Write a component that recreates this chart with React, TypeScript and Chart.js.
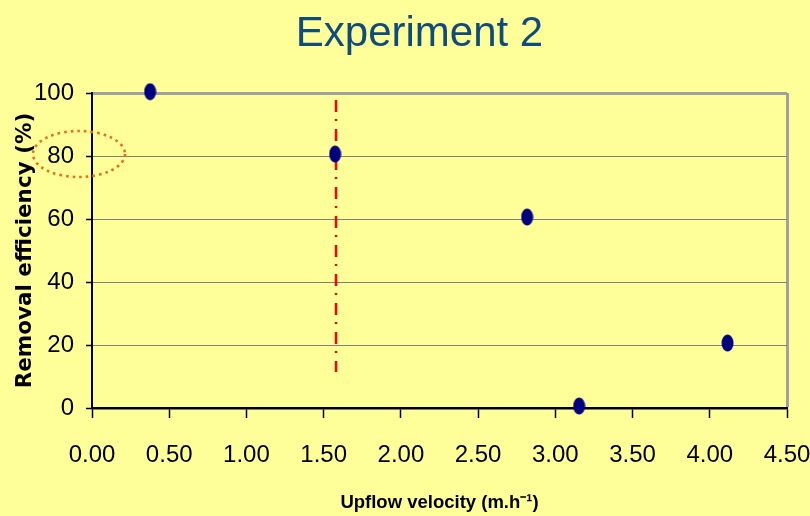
import React, { useEffect, useRef } from "react";
import { Chart, registerables } from "chart.js";

Chart.register(...registerables);

const chartTitle = "Experiment 2";
const xAxisTitle = "Upflow velocity (m.h\u207B\u00B9)";
const yAxisTitle = "Removal efficiency (%)";

const velocity = [0.376, 1.574, 2.817, 3.154, 4.115];
const efficiency = [100.4, 80.6, 60.6, 0.6, 20.6];

const thresholdX = [1.58, 1.58];
const thresholdY = [97.8, 11.4];

const xTickLabels = ["0.00", "0.50", "1.00", "1.50", "2.00", "2.50", "3.00", "3.50", "4.00", "4.50"];
const yTickLabels = ["0", "20", "40", "60", "80", "100"];

const highlightValue = 80;

const tickFont = { family: "'Liberation Sans Narrow', 'Arial Narrow', 'Liberation Sans', sans-serif", size: 24 };

function makeEllipse(): HTMLCanvasElement {
  const c = document.createElement("canvas");
  c.width = 13;
  c.height = 18;
  const g = c.getContext("2d")!;
  g.fillStyle = "#000080";
  g.beginPath();
  g.ellipse(6.5, 9, 6, 8.5, 0, 0, Math.PI * 2);
  g.fill();
  return c;
}

const decor = {
  id: "decor",
  beforeDraw(chart: any) {
    const { ctx, width, height } = chart;
    ctx.save();
    ctx.fillStyle = "#FFFF99";
    ctx.fillRect(0, 0, width, height);
    ctx.restore();
  },
  afterDraw(chart: any) {
    const { ctx, chartArea } = chart;
    const y = chart.scales.y;
    ctx.save();
    ctx.fillStyle = "#0E4C7E";
    ctx.font = "42px 'Liberation Sans', Arial, sans-serif";
    ctx.textAlign = "center";
    ctx.textBaseline = "alphabetic";
    ctx.fillText(chartTitle, (chartArea.left + chartArea.right) / 2 - 20, 46);
    const cy = y.getPixelForValue(highlightValue) - 2;
    const cx = chartArea.left - 13;
    ctx.strokeStyle = "#F26A1B";
    ctx.lineWidth = 2.6;
    ctx.setLineDash([2.6, 4]);
    ctx.beginPath();
    ctx.ellipse(cx, cy, 46, 23, 0, 0, Math.PI * 2);
    ctx.stroke();
    ctx.restore();
  },
};

export default function App() {
  const ref = useRef<HTMLCanvasElement | null>(null);

  useEffect(() => {
    if (!ref.current) return;
    const marker = makeEllipse();
    const chart = new Chart(ref.current, {
      type: "scatter",
      data: {
        datasets: [
          {
            type: "scatter",
            data: velocity.map((v, i) => ({ x: v, y: efficiency[i] })),
            pointStyle: marker as any,
            pointRadius: 8,
            clip: false as any,
            order: 0,
          },
          {
            type: "line",
            data: thresholdX.map((v, i) => ({ x: v, y: thresholdY[i] })),
            borderColor: "#FF0000",
            borderWidth: 2.5,
            borderDash: [12, 7, 2, 8],
            pointRadius: 0,
            fill: false,
            order: 1,
          },
        ],
      },
      options: {
        responsive: false,
        animation: false,
        layout: { padding: { top: 93, right: 23, left: 0, bottom: 0 } },
        plugins: {
          legend: { display: false },
          tooltip: { enabled: false },
          title: { display: false },
        },
        scales: {
          x: {
            type: "linear",
            min: 0,
            max: 4.5,
            afterFit: (s: any) => {
              s.height = 108;
              s.paddingRight = 0;
              s.paddingLeft = 0;
            },
            ticks: {
              stepSize: 0.5,
              color: "#000",
              font: tickFont,
              padding: 23,
              maxRotation: 0,
              autoSkip: false,
              callback: (_v: any, i: number) => xTickLabels[i],
            },
            grid: {
              drawOnChartArea: true,
              color: (c: any) => (c.tick && c.tick.value === 4.5 ? "#A0A0A0" : "rgba(0,0,0,0)"),
              lineWidth: (c: any) => (c.tick && c.tick.value === 4.5 ? 3 : 1),
              tickColor: "#000",
              tickWidth: 1.5,
              tickLength: 10,
            },
            border: { color: "#000", width: 2.5 },
            title: {
              display: true,
              text: xAxisTitle,
              color: "#000",
              font: { family: "'Liberation Sans Narrow', 'Arial Narrow', 'Liberation Sans', sans-serif", size: 18.5, weight: "bold" },
              padding: { top: 0, bottom: 2 },
            },
          },
          y: {
            min: 0,
            max: 100,
            afterFit: (s: any) => {
              s.width = 92;
            },
            ticks: {
              stepSize: 20,
              color: "#000",
              font: tickFont,
              padding: 12,
              callback: (_v: any, i: number) => yTickLabels[i],
            },
            grid: {
              color: (c: any) => (c.tick && c.tick.value === 100 ? "#A0A0A0" : "#808080"),
              lineWidth: (c: any) => (c.tick && c.tick.value === 100 ? 3 : 1),
              tickColor: "#000",
              tickWidth: 1.5,
              tickLength: 6,
            },
            border: { color: "#000", width: 2 },
            title: {
              display: true,
              text: yAxisTitle,
              color: "#000",
              font: { family: "'DejaVu Sans', sans-serif", size: 21.5, weight: "bold" },
              padding: { top: 13, bottom: 0 },
            },
          },
        },
      },
      plugins: [decor],
    });
    return () => chart.destroy();
  }, []);

  return (
    <div style={{ position: "fixed", left: 0, top: 0, width: 810, height: 516 }}>
      <canvas ref={ref} width={810} height={516} />
    </div>
  );
}
